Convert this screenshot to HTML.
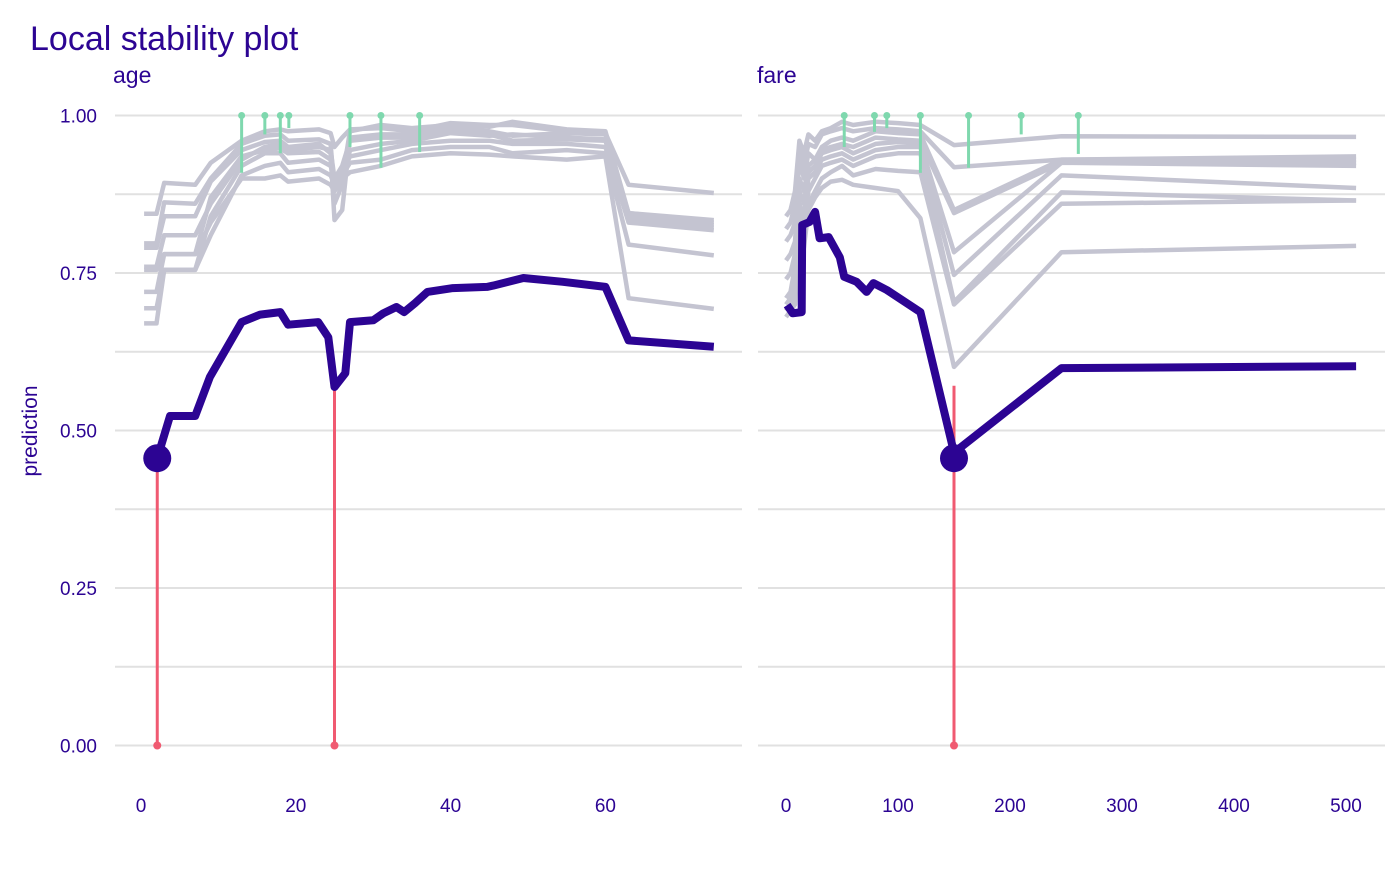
<!DOCTYPE html>
<html><head><meta charset="utf-8"><style>
body{margin:0;background:#fff;}
svg text{font-family:"Liberation Sans",sans-serif;fill:#2c0493;}
</style></head><body>
<svg id="chart" width="1400" height="866" viewBox="0 0 1400 866" xmlns="http://www.w3.org/2000/svg">
<text x="30" y="50" font-size="34">Local stability plot</text>
<text x="113" y="83" font-size="23">age</text>
<text x="757" y="83" font-size="23">fare</text>
<text x="0" y="0" font-size="21" text-anchor="middle" transform="translate(37,431) rotate(-90)">prediction</text>
<g id="grid"></g><g id="ylabels"></g><g id="xlabels"></g>
<g id="gray"></g><g id="red"></g><g id="green"></g><g id="main"></g>
</svg>
<script>
const yTicks=[0,0.25,0.5,0.75,1.0];
const yTickLabels=["0.00","0.25","0.50","0.75","1.00"];
const ageTicks=[0,20,40,60];
const fareTicks=[0,100,200,300,400,500];
const ageObs=2.1, fareObs=150, obsPred=0.456;
const ageMainX=[2.1,3.75,7,8.9,13,15.4,18,19,22.9,24.2,25,26.4,27,30,31.3,33,34,35.4,37,40.3,44.7,45.5,49.4,54.5,60,63,74];
const ageMainY=[0.456,0.523,0.523,0.585,0.672,0.684,0.688,0.668,0.672,0.648,0.569,0.591,0.672,0.675,0.686,0.696,0.688,0.702,0.72,0.726,0.728,0.73,0.742,0.736,0.728,0.643,0.633];
const fareMainX=[1,6,14,14.5,21,26,30,38,48,52,63,72,78,90,120,150,246,509];
const fareMainY=[0.699,0.686,0.688,0.826,0.831,0.847,0.805,0.807,0.775,0.744,0.736,0.72,0.734,0.723,0.688,0.465,0.599,0.602];
const ageGrayX=[0.4,2,3,7,9,13,16,18,19,23,24.5,25,26,27,31,35,40,45,48,55,60,63,74];
const ageGrayY=[
[0.844,0.844,0.893,0.89,0.925,0.96,0.975,0.978,0.975,0.978,0.972,0.95,0.965,0.978,0.98,0.975,0.988,0.985,0.985,0.975,0.972,0.89,0.877],
[0.797,0.797,0.862,0.86,0.9,0.955,0.968,0.97,0.96,0.962,0.955,0.88,0.9,0.975,0.985,0.98,0.985,0.982,0.99,0.978,0.975,0.845,0.834],
[0.79,0.79,0.84,0.84,0.895,0.945,0.958,0.96,0.95,0.955,0.94,0.834,0.85,0.965,0.97,0.97,0.98,0.975,0.968,0.972,0.97,0.84,0.826],
[0.755,0.755,0.78,0.78,0.87,0.935,0.945,0.948,0.94,0.942,0.93,0.86,0.89,0.945,0.955,0.96,0.972,0.968,0.97,0.965,0.962,0.835,0.822],
[0.694,0.694,0.755,0.755,0.84,0.92,0.94,0.94,0.925,0.93,0.92,0.9,0.91,0.935,0.945,0.955,0.96,0.96,0.955,0.955,0.95,0.83,0.818],
[0.67,0.67,0.755,0.755,0.81,0.905,0.92,0.925,0.91,0.915,0.905,0.89,0.905,0.925,0.93,0.945,0.95,0.95,0.94,0.945,0.94,0.795,0.778],
[0.72,0.72,0.78,0.78,0.83,0.9,0.9,0.905,0.895,0.9,0.89,0.88,0.9,0.91,0.92,0.935,0.94,0.938,0.935,0.93,0.935,0.71,0.693],
[0.76,0.76,0.81,0.81,0.86,0.93,0.95,0.955,0.945,0.95,0.945,0.9,0.92,0.96,0.965,0.965,0.975,0.97,0.96,0.962,0.96,0.845,0.83]
];
const fareGrayX=[0,4,8,12,16,20,26,32,40,50,60,80,100,120,150,246,509];
const fareGrayY=[
[0.84,0.85,0.88,0.96,0.94,0.97,0.96,0.975,0.98,0.99,0.985,0.99,0.988,0.985,0.953,0.967,0.966],
[0.82,0.83,0.86,0.95,0.92,0.955,0.95,0.97,0.975,0.98,0.975,0.98,0.978,0.975,0.918,0.93,0.935],
[0.8,0.81,0.83,0.93,0.9,0.94,0.93,0.95,0.96,0.965,0.96,0.975,0.972,0.97,0.85,0.93,0.93],
[0.77,0.78,0.8,0.9,0.88,0.92,0.93,0.945,0.95,0.955,0.95,0.965,0.962,0.96,0.845,0.925,0.925],
[0.74,0.75,0.78,0.88,0.86,0.91,0.92,0.94,0.945,0.95,0.94,0.955,0.958,0.955,0.783,0.925,0.92],
[0.71,0.72,0.76,0.86,0.84,0.9,0.91,0.93,0.935,0.94,0.93,0.945,0.95,0.95,0.747,0.905,0.885],
[0.7,0.71,0.74,0.85,0.83,0.88,0.9,0.92,0.925,0.93,0.92,0.935,0.94,0.94,0.704,0.878,0.865],
[0.69,0.7,0.72,0.83,0.82,0.86,0.88,0.9,0.91,0.92,0.905,0.915,0.912,0.91,0.70,0.86,0.865],
[0.68,0.69,0.7,0.8,0.79,0.85,0.87,0.885,0.895,0.898,0.89,0.885,0.88,0.837,0.601,0.783,0.793]
];
const ageGreenX=[13,16,18,19.1,27,31,36];
const ageGreenY=[0.909,0.97,0.94,0.98,0.95,0.917,0.942];
const fareGreenX=[52,79,90,120,163,210,261];
const fareGreenY=[0.95,0.974,0.98,0.909,0.917,0.97,0.939];
const ageRedX=[2.1,25];
const ageRedY=[0.456,0.569];
const fareRedX=[150];
const fareRedY=[0.571];

const NS="http://www.w3.org/2000/svg";
const yS=v=>745.5-630*v;
const ageS=v=>141+7.74*v;
const fareS=v=>786+1.12*v;
function mk(tag,attrs,parent){const e=document.createElementNS(NS,tag);for(const k in attrs)e.setAttribute(k,attrs[k]);document.getElementById(parent).appendChild(e);return e;}
for(let i=0;i<=8;i++){const v=i*0.125;
 for(const [a,b] of [[115,742],[758,1385]]){
  const g=mk('line',{x1:a,x2:b,y1:yS(v),y2:yS(v),stroke:'#e1e1e1','stroke-width':2},'grid');
  
  
 }}
yTicks.forEach((v,i)=>{const t=mk('text',{x:97,y:yS(v)+7,'font-size':19,'text-anchor':'end'},'ylabels');t.textContent=yTickLabels[i];
 
 });
ageTicks.forEach(v=>{const t=mk('text',{x:ageS(v),y:812,'font-size':19,'text-anchor':'middle'},'xlabels');t.textContent=v;
 
 });
fareTicks.forEach(v=>{const t=mk('text',{x:fareS(v),y:812,'font-size':19,'text-anchor':'middle'},'xlabels');t.textContent=v;
 
 });
function pts(xs,ys,sx){return xs.map((x,i)=>sx(x).toFixed(1)+','+yS(ys[i]).toFixed(1)).join(' ');}
ageGrayY.forEach(ys=>{const p=mk('polyline',{points:pts(ageGrayX,ys,ageS),fill:'none',stroke:'#c4c4d1','stroke-width':4.5,'stroke-linejoin':'round'},'gray');
 
 });
fareGrayY.forEach(ys=>{const p=mk('polyline',{points:pts(fareGrayX,ys,fareS),fill:'none',stroke:'#c4c4d1','stroke-width':4.5,'stroke-linejoin':'round'},'gray');
 
 });
function red(xs,ys,sx){xs.forEach((x,i)=>{const l=mk('line',{x1:sx(x),x2:sx(x),y1:yS(0),y2:yS(ys[i]),stroke:'#f05a71','stroke-width':3},'red');
 
 
 const c=mk('circle',{cx:sx(x),cy:yS(0),r:4,fill:'#f05a71'},'red');
 
 });}
red(ageRedX,ageRedY,ageS);red(fareRedX,fareRedY,fareS);
function green(xs,ys,sx){xs.forEach((x,i)=>{const l=mk('line',{x1:sx(x),x2:sx(x),y1:yS(1),y2:yS(ys[i]),stroke:'#7fd8ae','stroke-width':3},'green');
 
 
 const c=mk('circle',{cx:sx(x),cy:yS(1),r:3.5,fill:'#7fd8ae'},'green');
 
 });}
green(ageGreenX,ageGreenY,ageS);green(fareGreenX,fareGreenY,fareS);
let m=mk('polyline',{points:pts(ageMainX,ageMainY,ageS),fill:'none',stroke:'#2c0493','stroke-width':8,'stroke-linejoin':'round'},'main');


m=mk('polyline',{points:pts(fareMainX,fareMainY,fareS),fill:'none',stroke:'#2c0493','stroke-width':8,'stroke-linejoin':'round'},'main');


let o=mk('circle',{cx:ageS(ageObs),cy:yS(obsPred),r:14,fill:'#2c0493'},'main');


o=mk('circle',{cx:fareS(fareObs),cy:yS(obsPred),r:14,fill:'#2c0493'},'main');


</script>
</body></html>
